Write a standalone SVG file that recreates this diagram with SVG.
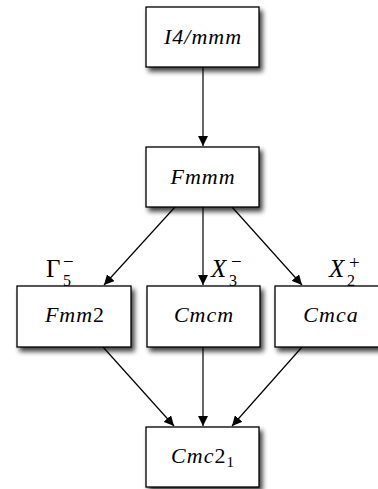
<svg xmlns="http://www.w3.org/2000/svg" width="378" height="489" viewBox="0 0 378 489">
  <defs>
    <filter id="shadow" x="-20%" y="-20%" width="150%" height="160%">
      <feGaussianBlur in="SourceAlpha" stdDeviation="2.4"/>
      <feOffset dx="3" dy="4" result="blur"/>
      <feComponentTransfer><feFuncA type="linear" slope="0.75"/></feComponentTransfer>
      <feMerge><feMergeNode/><feMergeNode in="SourceGraphic"/></feMerge>
    </filter>
    <marker id="arrow" viewBox="0 0 10 10" refX="10" refY="5" markerWidth="10" markerHeight="10" markerUnits="userSpaceOnUse" orient="auto">
      <path d="M0,0 L10,5 L0,10 z" fill="#000"/>
    </marker>
  </defs>
  <style>
    .box { fill: #fff; stroke: #000; stroke-width: 1.3; filter: url(#shadow); }
    .lbl { font-family: "Liberation Serif", "DejaVu Serif", serif; font-style: italic; font-size: 22px; letter-spacing: 1px; fill: #000; text-anchor: middle; }
    .rep { font-family: "Liberation Serif", "DejaVu Serif", serif; font-size: 25px; fill: #000; }
    .sub { font-family: "Liberation Serif", "DejaVu Serif", serif; font-size: 16px; font-style: normal; fill: #000; }
    .sup { font-family: "Liberation Serif", "DejaVu Serif", serif; font-size: 19px; font-style: normal; fill: #000; }
    .edge { stroke: #000; stroke-width: 1.2; fill: none; marker-end: url(#arrow); }
  </style>

  <g id="connectors">
    <line class="edge" x1="203" y1="67" x2="203" y2="146"/>
    <line class="edge" x1="175" y1="207" x2="104" y2="285"/>
    <line class="edge" x1="203" y1="207" x2="203" y2="285"/>
    <line class="edge" x1="232" y1="207" x2="302" y2="285"/>
    <line class="edge" x1="103" y1="347" x2="174" y2="426"/>
    <line class="edge" x1="203" y1="347" x2="203" y2="426"/>
    <line class="edge" x1="302" y1="347" x2="232" y2="426"/>
  </g>

  <g id="node-I4mmm">
    <rect class="box" x="146" y="7" width="113" height="60"/>
    <text class="lbl" x="203" y="44" letter-spacing="3">I4/mmm</text>
  </g>
  <g id="node-Fmmm">
    <rect class="box" x="146" y="147" width="113" height="60"/>
    <text class="lbl" x="203" y="184">Fmmm</text>
  </g>
  <g id="node-Fmm2">
    <rect class="box" x="17" y="286" width="114" height="61"/>
    <text class="lbl" x="75" y="322">Fmm<tspan font-style="normal">2</tspan></text>
  </g>
  <g id="node-Cmcm">
    <rect class="box" x="147" y="286" width="113" height="61"/>
    <text class="lbl" x="204" y="322">Cmcm</text>
  </g>
  <g id="node-Cmca">
    <rect class="box" x="275" y="286" width="113" height="61"/>
    <text class="lbl" x="331" y="322">Cmca</text>
  </g>
  <g id="node-Cmc21">
    <rect class="box" x="146" y="427" width="113" height="60"/>
    <text class="lbl" x="203" y="463">Cmc<tspan font-style="normal">2</tspan><tspan font-style="normal" font-size="15" dy="4">1</tspan></text>
  </g>

  <g id="edge-labels">
    <text class="rep" x="46" y="277">Γ</text>
    <text class="sub" x="63" y="286">5</text>
    <text class="sup" x="63" y="268">−</text>
    <text class="rep" x="211" y="277" font-style="italic">X</text>
    <text class="sub" x="229" y="286">3</text>
    <text class="sup" x="231" y="268">−</text>
    <text class="rep" x="329" y="277" font-style="italic">X</text>
    <text class="sub" x="347" y="286">2</text>
    <text class="sup" x="349" y="269">+</text>
  </g>
</svg>
